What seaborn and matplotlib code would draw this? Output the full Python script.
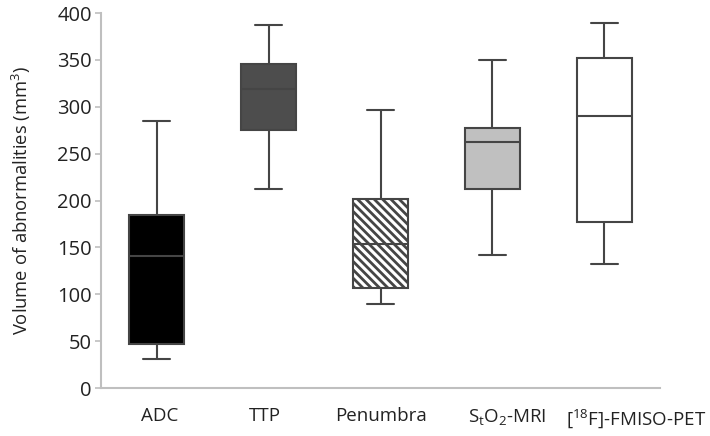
import numpy as np
import pandas as pd
import matplotlib
matplotlib.use("Agg")
import matplotlib.pyplot as plt
import matplotlib.transforms as mtransforms
import seaborn as sns

categories = ["ADC", "TTP", "Penumbra", "StO2-MRI", "FMISO-PET"]
tick_labels = ["ADC", "TTP", "Penumbra",
               r"S$_{\mathregular{t}}$O$_{\mathregular{2}}$-MRI",
               r"[$^{\mathregular{18}}$F]-FMISO-PET"]
# five-number summaries: lower whisker, Q1, median, Q3, upper whisker
whisker_low = [31, 212.5, 90, 142, 132]
q1 = [47.5, 275.5, 106.5, 212.5, 177]
median = [141, 319, 153.5, 262.5, 290.5]
q3 = [185, 345.5, 202, 277.5, 352]
whisker_high = [284.5, 387.5, 296.5, 349.5, 389.5]
fill_colors = ["#000000", "#4d4d4d", "#ffffff", "#c0c0c0", "#ffffff"]
label_shift_px = [3, -4, 0, 15, 32]

rows = []
for i, c in enumerate(categories):
    for v in (whisker_low[i], q1[i], median[i], q3[i], whisker_high[i]):
        rows.append({"category": c, "value": v})
df = pd.DataFrame(rows)

sns.set_style("white")
plt.rcParams["font.family"] = ["Open Sans", "DejaVu Sans"]
plt.rcParams["mathtext.fontset"] = "custom"
plt.rcParams["mathtext.rm"] = "Open Sans"
plt.rcParams["mathtext.it"] = "Open Sans:italic"
plt.rcParams["hatch.linewidth"] = 2.0
plt.rcParams["hatch.color"] = "black"

fig = plt.figure(figsize=(7.1, 4.36), dpi=100)
ax = fig.add_axes([0.142, 0.110, 0.788, 0.860])

sns.boxplot(data=df, x="category", y="value", hue="category",
            palette=dict(zip(categories, fill_colors)), legend=False,
            whis=(0, 100), width=0.49, linecolor="#454545", linewidth=1.5,
            saturation=1, ax=ax)

# hatch the penumbra box
boxes = [p for p in ax.patches]
if len(boxes) >= 3:
    boxes[2].set_hatch("\\\\\\\\")

ax.set_xlim(-0.5, 4.5)
ax.set_ylim(0, 400)
ax.set_yticks(np.arange(0, 401, 50))
ax.set_xticks(range(len(categories)))
ax.set_xticklabels(tick_labels)
ax.set_xlabel("")
ax.set_ylabel(r"Volume of abnormalities (mm$^{\mathregular{3}}$)", fontsize=13.2,
              color="#222222")
ax.yaxis.set_label_coords(-0.121, 0.5)

for s in ["top", "right"]:
    ax.spines[s].set_visible(False)
for s in ["left", "bottom"]:
    ax.spines[s].set_color("#bfbfbf")
    ax.spines[s].set_linewidth(1.5)

ax.tick_params(axis="y", which="major", length=4.5, width=1.2, color="#bfbfbf",
               labelsize=14.5, labelcolor="#222222", pad=2, left=True)
ax.tick_params(axis="x", which="major", length=0, labelsize=13.5, labelcolor="#222222", pad=14)

for lab, dx in zip(ax.get_xticklabels(), label_shift_px):
    lab.set_transform(lab.get_transform() +
                      mtransforms.ScaledTranslation(dx / 100.0, 0, fig.dpi_scale_trans))

fig.savefig("out.png", dpi=100)
